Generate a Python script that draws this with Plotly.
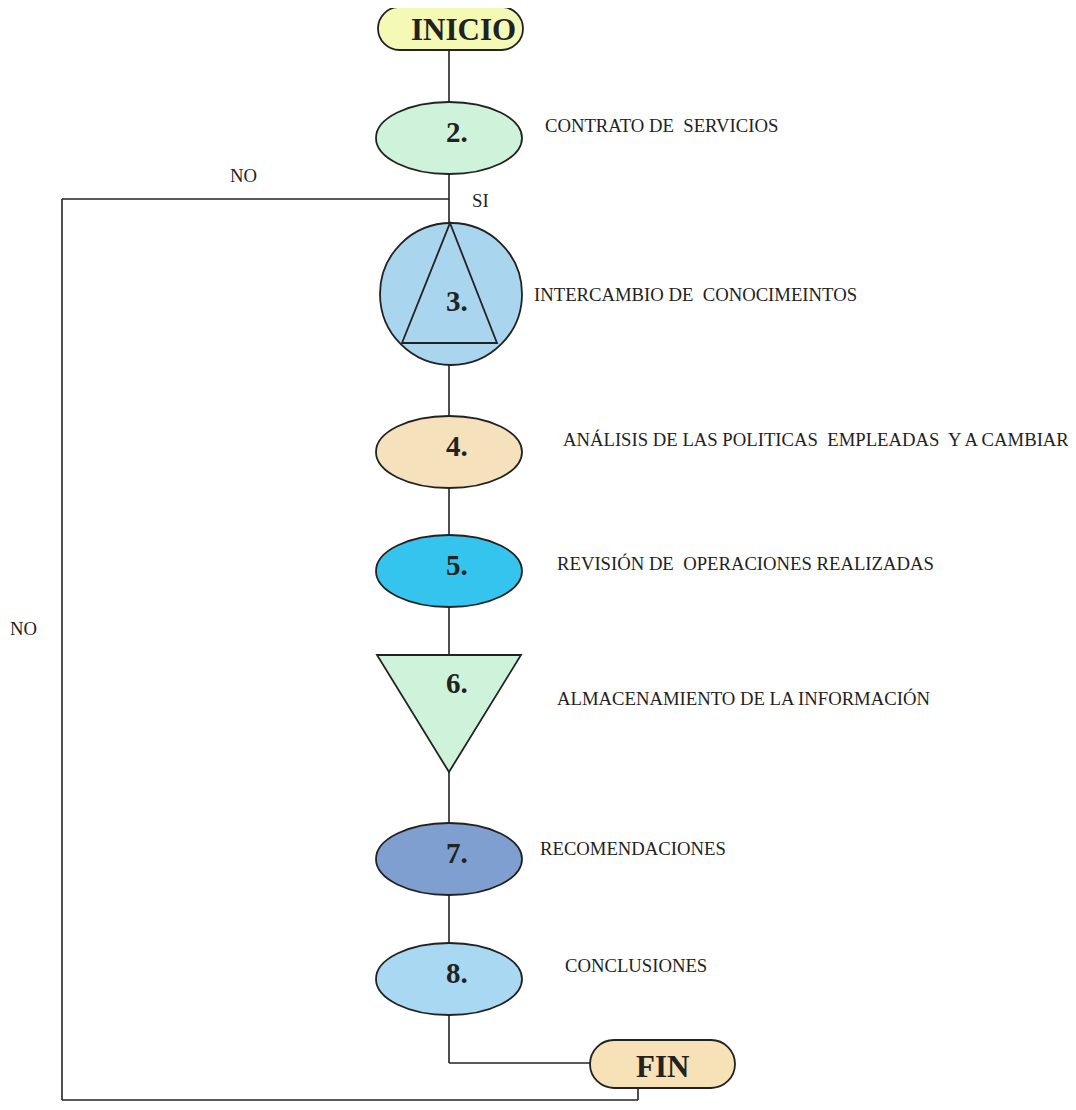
import plotly.graph_objects as go

# --- chart content ---
step_ids = ["2.", "3.", "4.", "5.", "6.", "7.", "8."]
step_names = [
    "CONTRATO DE\u00a0 SERVICIOS",
    "INTERCAMBIO DE\u00a0 CONOCIMEINTOS",
    "ANÁLISIS DE LAS POLITICAS\u00a0 EMPLEADAS\u00a0 Y A CAMBIAR",
    "REVISIÓN DE\u00a0 OPERACIONES REALIZADAS",
    "ALMACENAMIENTO DE LA INFORMACIÓN",
    "RECOMENDACIONES",
    "CONCLUSIONES",
]
step_shapes = ["ellipse", "circle_tri", "ellipse", "ellipse", "tri_down", "ellipse", "ellipse"]
terminals = ["INICIO", "FIN"]
branch_labels = ["SI", "NO", "NO"]

# --- layout of the drawing (pixel-like coordinates, y grows downward) ---
W, H = 1076, 1110
PAGE_MARGIN = 8  # default body margin of the html page
cx = 449
step_y = [138, 294, 452, 571, 713, 859, 979]
step_color = ["#cff3da", "#a9d5ef", "#f5e2bc", "#35c4ee", "#cff3da", "#7f9fd0", "#a9d9f2"]
step_text_x = [543, 532, 561, 555, 555, 538, 563]
step_text_y = [125, 294, 439, 563, 698, 848, 965]
term_box = [(378, 523, 7, 50), (590, 735, 1040, 1088)]
term_color = ["#f5f9b6", "#f6e2b6"]
term_text = [(463, 29), (662, 1066)]
branch_pos = [(480, 200), (243, 175), (23, 628)]

ink = "#222222"
serif = "Liberation Serif"

fig = go.Figure()
shapes = []
annotations = []


def line(x0, y0, x1, y1):
    shapes.append(dict(type="line", x0=x0, y0=y0, x1=x1, y1=y1,
                       line=dict(color=ink, width=1.6), layer="above"))


def pill(x0, x1, y0, y1):
    r = (y1 - y0) / 2
    k = 0.5523 * r
    return (f"M {x0 + r},{y0} L {x1 - r},{y0} "
            f"C {x1 - r + k},{y0} {x1},{y0 + r - k} {x1},{y0 + r} "
            f"C {x1},{y0 + r + k} {x1 - r + k},{y1} {x1 - r},{y1} "
            f"L {x0 + r},{y1} "
            f"C {x0 + r - k},{y1} {x0},{y0 + r + k} {x0},{y0 + r} "
            f"C {x0},{y0 + r - k} {x0 + r - k},{y0} {x0 + r},{y0} Z")


# connectors
line(cx, 50, cx, 1063)
line(cx, 1063, 590, 1063)
line(cx, 199, 62, 199)
line(62, 199, 62, 1100)
line(62, 1100, 638, 1100)
line(638, 1088, 638, 1100)

# terminals
for (x0, x1, y0, y1), col in zip(term_box, term_color):
    shapes.append(dict(type="path", path=pill(x0, x1, y0, y1), fillcolor=col,
                       line=dict(color=ink, width=1.8), layer="above"))

# steps
for kind, y, col in zip(step_shapes, step_y, step_color):
    if kind == "ellipse":
        shapes.append(dict(type="circle", x0=cx - 73, x1=cx + 73, y0=y - 36, y1=y + 36,
                           fillcolor=col, line=dict(color=ink, width=1.8), layer="above"))
    elif kind == "circle_tri":
        shapes.append(dict(type="circle", x0=cx + 2 - 71, x1=cx + 2 + 71, y0=y - 71, y1=y + 71,
                           fillcolor=col, line=dict(color=ink, width=1.8), layer="above"))
        shapes.append(dict(type="path", path=f"M {cx + 1},{y - 71} L {cx + 48},{y + 49} L {cx - 47},{y + 49} Z",
                           fillcolor=col, line=dict(color=ink, width=1.8), layer="above"))
    else:
        shapes.append(dict(type="path", path=f"M {cx - 72},{y - 58} L {cx + 72},{y - 58} L {cx},{y + 59} Z",
                           fillcolor=col, line=dict(color=ink, width=1.8), layer="above"))

fig.update_layout(shapes=shapes)

for sid, y in zip(step_ids, step_y):
    dy = -30 if sid == "6." else (7 if sid == "3." else -6)
    annotations.append(dict(x=cx + 8, y=y + dy, text=sid, showarrow=False,
                            xanchor="center", yanchor="middle",
                            font=dict(family=serif, size=29, color=ink, weight="bold")))

for name, tx, ty in zip(step_names, step_text_x, step_text_y):
    annotations.append(dict(x=tx, y=ty, text=name, showarrow=False,
                            xanchor="left", yanchor="middle",
                            font=dict(family=serif, size=18.7, color=ink)))

for t, (tx, ty) in zip(terminals, term_text):
    annotations.append(dict(x=tx, y=ty, text=t, showarrow=False,
                            xanchor="center", yanchor="middle",
                            font=dict(family=serif, size=31, color=ink, weight="bold")))

for b, (bx, by) in zip(branch_labels, branch_pos):
    annotations.append(dict(x=bx, y=by, text=b, showarrow=False,
                            xanchor="center", yanchor="middle",
                            font=dict(family=serif, size=18.7, color=ink)))

# the figure starts at the page margin, so it is made that much smaller
fig.update_layout(
    annotations=annotations,
    width=W - PAGE_MARGIN, height=H - PAGE_MARGIN,
    margin=dict(l=0, r=0, t=0, b=0),
    paper_bgcolor="white", plot_bgcolor="white",
    xaxis=dict(range=[PAGE_MARGIN, W], visible=False, fixedrange=True),
    yaxis=dict(range=[H, PAGE_MARGIN], visible=False, fixedrange=True),
    showlegend=False,
)

fig.write_html("out.html")
